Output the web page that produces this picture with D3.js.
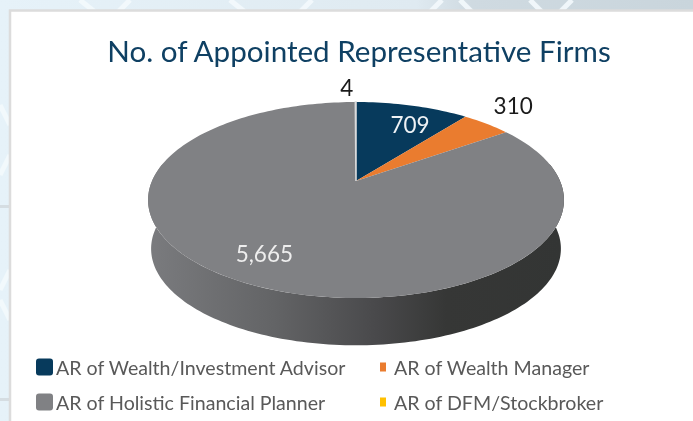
<!DOCTYPE html>
<html><head><meta charset="utf-8">
<script src="https://cdn.jsdelivr.net/npm/d3@7/dist/d3.min.js"></script>
<style>html,body{margin:0;padding:0;background:#fff;overflow:hidden}svg{display:block;filter:blur(.45px)}text{font-family:Lato,Carlito,sans-serif}</style>
</head><body><svg id="c" width="693" height="421"></svg>
<script>
const titleText = "No. of Appointed Representative Firms";
const categories = ["AR of Wealth/Investment Advisor","AR of Wealth Manager","AR of Holistic Financial Planner","AR of DFM/Stockbroker"];
const values = [709,310,5665,4];
const valueLabels = ["709","310","5,665","4"];
const colors = ["#073a5c","#ea7c2f","#808184","#ffc000"];
const labelColors = ["#eef2f5","#1a1a1a","#eeeeee","#1a1a1a"];

const svg = d3.select("#c");
const defs = svg.append("defs");
const W=693,H=421;

// backdrop
const bg = defs.append("linearGradient").attr("id","bg").attr("x1",0).attr("x2",1).attr("y1",0).attr("y2",0);
[[0,"#e6f2f9"],[.6,"#dfeaf1"],[.68,"#cfdae1"],[1,"#c9d5dc"]].forEach(d=>bg.append("stop").attr("offset",d[0]).attr("stop-color",d[1]));
svg.append("rect").attr("width",W).attr("height",H).attr("fill","url(#bg)");
const lattice = svg.append("g").attr("stroke","#f4fafd").attr("stroke-width",5).attr("fill","none").attr("opacity",.9);
[[80,0,95,12],[118,12,130,0],[230,0,245,12],[300,12,312,0],[430,12,442,0],[460,0,472,12],[530,0,542,12],[560,12,572,0],[0,105,10,125],[0,175,10,155],[0,290,10,270],[0,300,10,320]]
 .forEach(d=>lattice.append("line").attr("x1",d[0]).attr("y1",d[1]).attr("x2",d[2]).attr("y2",d[3]));
svg.append("rect").attr("x",0).attr("y",205).attr("width",10).attr("height",3).attr("fill","#d5dde2");
svg.append("rect").attr("x",0).attr("y",398).attr("width",10).attr("height",3).attr("fill","#d5dde2");
svg.append("rect").attr("x",10).attr("y",10.5).attr("width",W).attr("height",H).attr("fill","#fff").attr("stroke","#dcdcdc").attr("stroke-width",2.5);

// perspective pie projection: unit disc -> screen
const cx=356, apexY=181, persp=-0.194, Rx=204, Ry=94.3;
const scaleR = d3.scaleLinear().domain([0,1]).range([0,1]);
function project(angle,r,depth=0){
  const u=Math.sin(angle)*scaleR(r), v=-Math.cos(angle)*scaleR(r), w=1+persp*v, shrink=1-depth*0.0003;
  return [cx+Rx*shrink*u/w, apexY+depth+Ry*shrink*v/w];
}
const pie = d3.pie().sort(null).startAngle(0).endAngle(2*Math.PI);
const arcs = pie(values);
const line = d3.line();
const steps = a => d3.range(0,1.0001,1/Math.max(2,Math.ceil((a.endAngle-a.startAngle)*40))).map(t=>a.startAngle+t*(a.endAngle-a.startAngle));

// side wall
const depth=49;
const side = defs.append("linearGradient").attr("id","side").attr("gradientUnits","userSpaceOnUse").attr("x1",150).attr("x2",562).attr("y1",0).attr("y2",0);
[[0,"#7a7b7e"],[.3,"#636466"],[.55,"#49494b"],[.72,"#363736"],[1,"#333534"]].forEach(d=>side.append("stop").attr("offset",d[0]).attr("stop-color",d[1]));
const wallStart=Math.PI*0.44, wallEnd=Math.PI*1.56;
const wallAngles=d3.range(0,1.0001,1/160).map(t=>wallStart+t*(wallEnd-wallStart));
svg.append("path").attr("fill","url(#side)")
  .attr("d",line([...wallAngles.map(a=>project(a,1,0)),...wallAngles.slice().reverse().map(a=>project(a,1,depth))])+"Z");

// top face
svg.append("g").selectAll("path").data(arcs).join("path")
  .attr("fill",(d,i)=>colors[i])
  .attr("stroke",(d,i)=>i===3?"#d9dadb":"none").attr("stroke-width",1.6)
  .attr("d",d=>line([[cx,apexY],...steps(d).map(a=>project(a,1))])+"Z");

// value labels
const labelPlace=[{r:.6,dx:18,dy:-8},{r:1.12,dx:13,dy:-12},{r:.75,dx:-11,dy:0},{r:1.05,dx:-9,dy:-11}];
svg.append("g").selectAll("text").data(arcs).join("text")
  .attr("x",(d,i)=>project((d.startAngle+d.endAngle)/2,labelPlace[i].r)[0]+labelPlace[i].dx)
  .attr("y",(d,i)=>project((d.startAngle+d.endAngle)/2,labelPlace[i].r)[1]+labelPlace[i].dy)
  .attr("text-anchor","middle").attr("dominant-baseline","central")
  .attr("font-size",22.5).attr("fill",(d,i)=>labelColors[i]).text((d,i)=>valueLabels[i]);

// title
svg.append("text").attr("x",359).attr("y",62).attr("text-anchor","middle")
  .attr("font-size",29.6).attr("fill","#0f4063").text(titleText);

// legend
const legendCols=d3.scaleOrdinal().domain([0,1]).range([56,394]);
const legendRows=d3.scaleOrdinal().domain([0,1]).range([367,402]);
const swW=[17,6,17,6], swH=[17,9,17,9];
const legend=svg.append("g").selectAll("g").data(categories).join("g");
legend.append("rect")
  .attr("x",(d,i)=>legendCols(i%2)-(i%2?8:3)-swW[i])
  .attr("y",(d,i)=>legendRows(i>>1)-swH[i]/2)
  .attr("width",(d,i)=>swW[i]).attr("height",(d,i)=>swH[i])
  .attr("rx",(d,i)=>i%2?0:3).attr("fill",(d,i)=>colors[i]);
legend.append("text").attr("x",(d,i)=>legendCols(i%2)).attr("y",(d,i)=>legendRows(i>>1))
  .attr("dominant-baseline","central").attr("font-size",19.6).attr("fill","#595959").text(d=>d);
</script></body></html>
